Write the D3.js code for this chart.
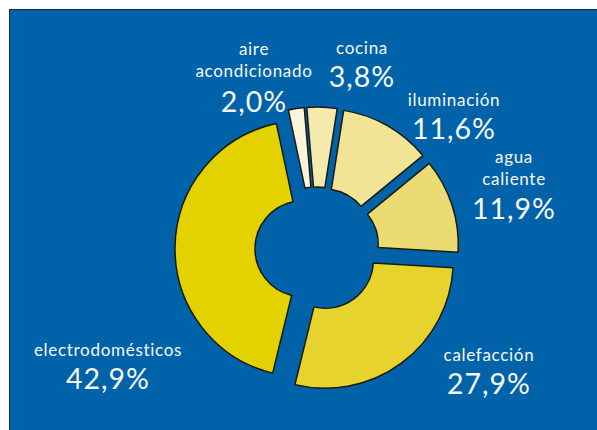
<!DOCTYPE html>
<html>
<head>
<meta charset="utf-8">
<script src="https://cdn.jsdelivr.net/npm/d3@7/dist/d3.min.js"></script>
<style>
  html, body { margin: 0; padding: 0; background: #ffffff; }
  svg { display: block; }
</style>
</head>
<body>
<div id="chart"></div>
<script>
// ---- data ----
const categories = ["aire acondicionado", "cocina", "iluminación", "agua caliente", "calefacción", "electrodomésticos"];
const values = [2.0, 3.8, 11.6, 11.9, 27.9, 42.9];
const valueLabels = ["2,0%", "3,8%", "11,6%", "11,9%", "27,9%", "42,9%"];
const nameLines = [["aire", "acondicionado"], ["cocina"], ["iluminación"], ["agua", "caliente"], ["calefacción"], ["electrodomésticos"]];

// ---- styles / layout ----
const sliceColors = ["#fbf5da", "#f5eaae", "#f1e494", "#ecdb72", "#e6d32e", "#e4d100"];
const labelLayout = [
  { x: 254, nameY: 54.5, pctY: 111.5 },
  { x: 362, nameY: 54, pctY: 86.5 },
  { x: 454, nameY: 105.5, pctY: 138.5 },
  { x: 514, nameY: 162.5, pctY: 218.5 },
  { x: 489, nameY: 361, pctY: 393.5 },
  { x: 108, nameY: 356, pctY: 388.5 }
];

const W = 597, H = 430;
const cx = 317, cy = 249;
const innerR = 48, outerR = 128, explode = 14;
const startDeg = -12;

const svg = d3.select("#chart").append("svg")
  .attr("width", W).attr("height", H);

// background panel
svg.append("rect")
  .attr("x", 9.5).attr("y", 9.5)
  .attr("width", W).attr("height", H)
  .attr("fill", "#0063a9")
  .attr("stroke", "#1d2a38").attr("stroke-width", 1);

const data = categories.map((c, i) => ({ name: c, value: values[i], idx: i }));

const pie = d3.pie()
  .sort(null)
  .value(d => d.value)
  .startAngle(startDeg * Math.PI / 180)
  .endAngle(startDeg * Math.PI / 180 + 2 * Math.PI);

const arc = d3.arc().innerRadius(innerR).outerRadius(outerR);

const g = svg.append("g").attr("transform", `translate(${cx},${cy})`);

g.selectAll("path")
  .data(pie(data))
  .join("path")
  .attr("d", arc)
  .attr("transform", d => {
    const a = (d.startAngle + d.endAngle) / 2;
    return `translate(${explode * Math.sin(a)},${-explode * Math.cos(a)})`;
  })
  .attr("fill", d => sliceColors[d.data.idx])
  .attr("stroke", "#1a1a12")
  .attr("stroke-width", 1.5)
  .attr("stroke-linejoin", "round");

// labels
const labels = svg.append("g")
  .attr("font-family", "Lato, 'Open Sans', sans-serif")
  .attr("fill", "#f7f7f7")
  .attr("text-anchor", "middle");

data.forEach((d, i) => {
  const L = labelLayout[i];
  nameLines[i].forEach((line, j) => {
    labels.append("text")
      .attr("x", L.x)
      .attr("y", L.nameY + j * 22)
      .attr("font-size", 17)
      .attr("letter-spacing", 0.7)
      .text(line);
  });
  labels.append("text")
    .attr("x", L.x)
    .attr("y", L.pctY)
    .attr("font-size", 28.5)
    .attr("letter-spacing", 1)
    .text(valueLabels[i]);
});
</script>
</body>
</html>
